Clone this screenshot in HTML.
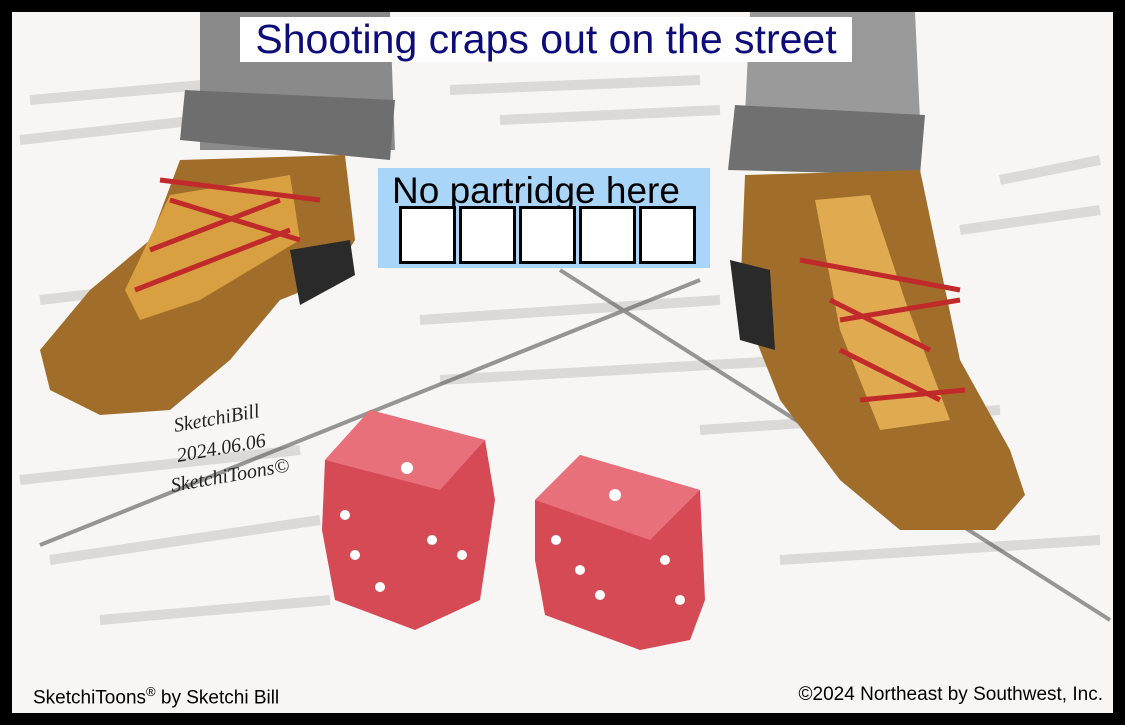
<!DOCTYPE html>
<html><head><meta charset="utf-8"><style>
html,body{margin:0;padding:0;background:#000;}
#frame{position:relative;width:1125px;height:725px;background:#000;overflow:hidden;font-family:"Liberation Sans",sans-serif;}
#paper{position:absolute;left:12px;top:12px;width:1101px;height:701px;background:#f7f6f5;}
svg{position:absolute;left:0;top:0;}
.title{position:absolute;left:240px;top:17px;width:612px;height:45px;background:#fff;color:#0c0c7a;font-size:41px;line-height:45px;text-align:center;white-space:nowrap;}
.quiz{position:absolute;left:378px;top:168px;width:332px;height:100px;background:#a9d6f8;}
.quiz-label{position:absolute;left:14px;top:2px;font-size:37px;line-height:42px;color:#000;white-space:nowrap;}
.sq{position:absolute;top:38px;width:57px;height:58px;background:#fff;border:3px solid #000;box-sizing:border-box;}
.foot{position:absolute;top:684px;font-size:19px;color:#000;}
</style></head><body>
<div id="frame">
<div id="paper"></div>
<svg width="1125" height="725">
  <g opacity="0.25" stroke="#888" stroke-width="10" fill="none">
    <path d="M30 100 L260 80 M20 140 L200 120 M40 300 L300 270 M20 480 L300 450 M50 560 L320 520 M450 90 L700 80 M500 120 L720 110 M420 320 L720 300 M440 380 L800 360 M700 430 L1000 410 M780 560 L1100 540 M1000 180 L1100 160 M960 230 L1100 210 M100 620 L330 600"/>
  </g>
  <path d="M40 545 L700 280 M560 270 L1110 620" stroke="#555" stroke-width="4" opacity="0.6"/>
  <path d="M200 12 L390 12 L395 150 L200 150 Z" fill="#8a8a8a"/>
  <path d="M185 90 L395 100 L390 160 L180 140 Z" fill="#6e6e6e"/>
  <path d="M750 12 L915 12 L920 120 L745 115 Z" fill="#9a9a9a"/>
  <path d="M735 105 L925 115 L920 175 L728 170 Z" fill="#707070"/>
  <path d="M180 160 L345 155 L355 240 L330 280 L280 300 L230 360 L170 410 L100 415 L50 390 L40 350 L90 290 L150 240 Z" fill="#a06e2a"/>
  <path d="M290 250 L350 240 L355 275 L300 305 Z" fill="#2a2a2a"/>
  <path d="M170 195 L290 175 L300 240 L200 300 L140 320 L125 290 Z" fill="#d8a040"/>
  <path d="M170 200 L300 240 M150 250 L280 200 M135 290 L290 230 M160 180 L320 200" stroke="#c02a2a" stroke-width="5" fill="none"/>
  <path d="M745 175 L920 170 L960 360 L1010 450 L1025 495 L995 530 L900 530 L840 480 L780 400 L760 350 L740 300 Z" fill="#a06e2a"/>
  <path d="M730 260 L770 270 L775 350 L740 340 Z" fill="#2a2a2a"/>
  <path d="M815 200 L870 195 L905 300 L950 420 L880 430 L840 330 Z" fill="#e0aa50"/>
  <path d="M800 260 L960 290 M830 300 L930 350 M840 350 L940 400 M860 400 L965 390 M840 320 L960 300" stroke="#c02a2a" stroke-width="5" fill="none"/>
  <path d="M325 460 L370 410 L485 440 L495 500 L480 600 L415 630 L335 600 L322 530 Z" fill="#d64a55"/>
  <path d="M325 460 L370 410 L485 440 L440 490 Z" fill="#e8707a"/>
  <path d="M535 500 L580 455 L700 490 L705 600 L690 640 L640 650 L545 615 L535 560 Z" fill="#d64a55"/>
  <path d="M535 500 L580 455 L700 490 L650 540 Z" fill="#e8707a"/>
  <g fill="#fff">
    <circle cx="407" cy="468" r="6"/><circle cx="345" cy="515" r="5"/><circle cx="355" cy="555" r="5"/><circle cx="380" cy="587" r="5"/>
    <circle cx="432" cy="540" r="5"/><circle cx="462" cy="555" r="5"/>
    <circle cx="615" cy="495" r="6"/><circle cx="556" cy="540" r="5"/><circle cx="580" cy="570" r="5"/><circle cx="600" cy="595" r="5"/><circle cx="665" cy="560" r="5"/><circle cx="680" cy="600" r="5"/>
  </g>
  <g font-family="Liberation Serif, serif" font-style="italic" font-size="20" fill="#222">
    <text x="175" y="432" transform="rotate(-10 175 432)">SketchiBill</text>
    <text x="178" y="462" transform="rotate(-10 178 462)">2024.06.06</text>
    <text x="172" y="492" transform="rotate(-10 172 492)">SketchiToons©</text>
  </g>
</svg>
<div class="title">Shooting craps out on the street</div>
<div class="quiz">
  <div class="quiz-label">No partridge here</div>
  <div class="sq" style="left:21px"></div>
  <div class="sq" style="left:81px"></div>
  <div class="sq" style="left:141px"></div>
  <div class="sq" style="left:201px"></div>
  <div class="sq" style="left:261px"></div>
</div>
<div class="foot" style="left:33px">SketchiToons<sup style="font-size:13px">®</sup> by Sketchi Bill</div>
<div class="foot" style="right:22px">©2024 Northeast by Southwest, Inc.</div>
</div>
</body></html>
